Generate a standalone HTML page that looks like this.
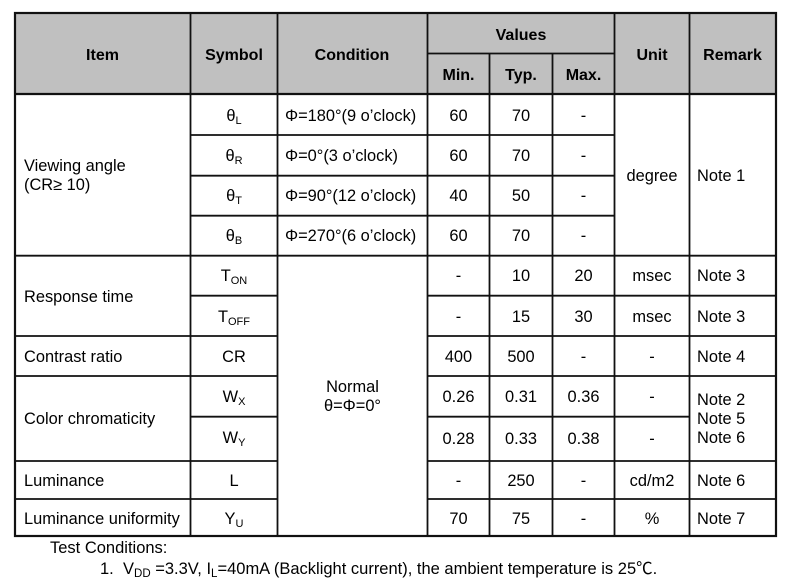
<!DOCTYPE html>
<html>
<head>
<meta charset="utf-8">
<style>
  html, body { margin:0; padding:0; background:#fff; }
  body { width:800px; height:583px; overflow:hidden; }
  svg { display:block; }
  text { font-family: "Liberation Sans", "Noto Sans CJK SC", sans-serif; font-size:16.4px; fill:#000; }
  .b { font-weight:bold; font-size:16px; }
  .c { text-anchor:middle; }
  .s { font-size:11px; }
  .ft { font-size:16.5px; }
</style>
</head>
<body>
<svg width="800" height="583" viewBox="0 0 800 583" xmlns="http://www.w3.org/2000/svg">
  <!-- header fill -->
  <rect x="15" y="13" width="761" height="81" fill="#c0c0c0"/>

  <g stroke="#111" stroke-width="1.8" fill="none">
    <!-- verticals -->
    <line x1="190.5" y1="13" x2="190.5" y2="536"/>
    <line x1="277.5" y1="13" x2="277.5" y2="536"/>
    <line x1="427.5" y1="13" x2="427.5" y2="536"/>
    <line x1="489.5" y1="53.5" x2="489.5" y2="536"/>
    <line x1="552.5" y1="53.5" x2="552.5" y2="536"/>
    <line x1="614.5" y1="13" x2="614.5" y2="536"/>
    <line x1="689.5" y1="13" x2="689.5" y2="536"/>
    <!-- horizontals -->
    <line x1="427.5" y1="53.5" x2="614.5" y2="53.5"/>
    <line x1="190.5" y1="135" x2="614.5" y2="135"/>
    <line x1="190.5" y1="175.7" x2="614.5" y2="175.7"/>
    <line x1="190.5" y1="215.7" x2="614.5" y2="215.7"/>
    <line x1="15" y1="255.7" x2="776" y2="255.7"/>
    <line x1="190.5" y1="295.7" x2="277.5" y2="295.7"/>
    <line x1="427.5" y1="295.7" x2="776" y2="295.7"/>
    <line x1="15" y1="336" x2="277.5" y2="336"/>
    <line x1="427.5" y1="336" x2="776" y2="336"/>
    <line x1="15" y1="376" x2="277.5" y2="376"/>
    <line x1="427.5" y1="376" x2="776" y2="376"/>
    <line x1="190.5" y1="416.7" x2="277.5" y2="416.7"/>
    <line x1="427.5" y1="416.7" x2="689.5" y2="416.7"/>
    <line x1="15" y1="461" x2="277.5" y2="461"/>
    <line x1="427.5" y1="461" x2="776" y2="461"/>
    <line x1="15" y1="499" x2="277.5" y2="499"/>
    <line x1="427.5" y1="499" x2="776" y2="499"/>
  </g>
  <g stroke="#111" stroke-width="2.2" fill="none">
    <line x1="15" y1="94" x2="776" y2="94"/>
    <rect x="15" y="13" width="761" height="523"/>
  </g>

  <!-- header text -->
  <text class="b c" x="102.5" y="60">Item</text>
  <text class="b c" x="234" y="60">Symbol</text>
  <text class="b c" x="352" y="60">Condition</text>
  <text class="b c" x="521" y="40">Values</text>
  <text class="b c" x="458.5" y="80">Min.</text>
  <text class="b c" x="521" y="80">Typ.</text>
  <text class="b c" x="583.5" y="80">Max.</text>
  <text class="b c" x="652" y="60">Unit</text>
  <text class="b c" x="732.5" y="60">Remark</text>

  <!-- Item column -->
  <text x="24" y="171">Viewing angle</text>
  <text x="24" y="190">(CR≥ 10)</text>
  <text x="24" y="302">Response time</text>
  <text x="24" y="362">Contrast ratio</text>
  <text x="24" y="424">Color chromaticity</text>
  <text x="24" y="486">Luminance</text>
  <text x="24" y="524">Luminance uniformity</text>

  <!-- Symbol column -->
  <text class="c" x="234" y="121">θ<tspan class="s" dy="3">L</tspan></text>
  <text class="c" x="234" y="161">θ<tspan class="s" dy="3">R</tspan></text>
  <text class="c" x="234" y="201">θ<tspan class="s" dy="3">T</tspan></text>
  <text class="c" x="234" y="241">θ<tspan class="s" dy="3">B</tspan></text>
  <text class="c" x="234" y="281">T<tspan class="s" dy="3">ON</tspan></text>
  <text class="c" x="234" y="322">T<tspan class="s" dy="3">OFF</tspan></text>
  <text class="c" x="234" y="362">CR</text>
  <text class="c" x="234" y="402">W<tspan class="s" dy="3">X</tspan></text>
  <text class="c" x="234" y="443">W<tspan class="s" dy="3">Y</tspan></text>
  <text class="c" x="234" y="486">L</text>
  <text class="c" x="234" y="524">Y<tspan class="s" dy="3">U</tspan></text>

  <!-- Condition column -->
  <text x="285" y="121">Φ=180°(9 o’clock)</text>
  <text x="285" y="161">Φ=0°(3 o’clock)</text>
  <text x="285" y="201">Φ=90°(12 o’clock)</text>
  <text x="285" y="241">Φ=270°(6 o’clock)</text>
  <text class="c" x="352.5" y="392">Normal</text>
  <text class="c" x="352.5" y="411">θ=Φ=0°</text>

  <!-- Min -->
  <text class="c" x="458.5" y="121">60</text>
  <text class="c" x="458.5" y="161">60</text>
  <text class="c" x="458.5" y="201">40</text>
  <text class="c" x="458.5" y="241">60</text>
  <text class="c" x="458.5" y="281">-</text>
  <text class="c" x="458.5" y="322">-</text>
  <text class="c" x="458.5" y="362">400</text>
  <text class="c" x="458.5" y="402">0.26</text>
  <text class="c" x="458.5" y="444">0.28</text>
  <text class="c" x="458.5" y="486">-</text>
  <text class="c" x="458.5" y="524">70</text>

  <!-- Typ -->
  <text class="c" x="521" y="121">70</text>
  <text class="c" x="521" y="161">70</text>
  <text class="c" x="521" y="201">50</text>
  <text class="c" x="521" y="241">70</text>
  <text class="c" x="521" y="281">10</text>
  <text class="c" x="521" y="322">15</text>
  <text class="c" x="521" y="362">500</text>
  <text class="c" x="521" y="402">0.31</text>
  <text class="c" x="521" y="444">0.33</text>
  <text class="c" x="521" y="486">250</text>
  <text class="c" x="521" y="524">75</text>

  <!-- Max -->
  <text class="c" x="583.5" y="121">-</text>
  <text class="c" x="583.5" y="161">-</text>
  <text class="c" x="583.5" y="201">-</text>
  <text class="c" x="583.5" y="241">-</text>
  <text class="c" x="583.5" y="281">20</text>
  <text class="c" x="583.5" y="322">30</text>
  <text class="c" x="583.5" y="362">-</text>
  <text class="c" x="583.5" y="402">0.36</text>
  <text class="c" x="583.5" y="444">0.38</text>
  <text class="c" x="583.5" y="486">-</text>
  <text class="c" x="583.5" y="524">-</text>

  <!-- Unit -->
  <text class="c" x="652" y="181">degree</text>
  <text class="c" x="652" y="281">msec</text>
  <text class="c" x="652" y="322">msec</text>
  <text class="c" x="652" y="362">-</text>
  <text class="c" x="652" y="402">-</text>
  <text class="c" x="652" y="444">-</text>
  <text class="c" x="652" y="486">cd/m2</text>
  <text class="c" x="652" y="524">%</text>

  <!-- Remark -->
  <text x="697" y="181">Note 1</text>
  <text x="697" y="281">Note 3</text>
  <text x="697" y="322">Note 3</text>
  <text x="697" y="362">Note 4</text>
  <text x="697" y="405">Note 2</text>
  <text x="697" y="424">Note 5</text>
  <text x="697" y="443">Note 6</text>
  <text x="697" y="486">Note 6</text>
  <text x="697" y="524">Note 7</text>

  <!-- footnotes -->
  <text class="ft" x="50" y="553">Test Conditions:</text>
  <text class="ft" x="100" y="574">1.</text>
  <text class="ft" x="123" y="574">V<tspan font-size="11.5" dy="3">DD</tspan><tspan dy="-3"> =3.3V, I</tspan><tspan font-size="11.5" dy="3">L</tspan><tspan dy="-3">=40mA (Backlight current), the ambient temperature is 25℃.</tspan></text>
  <text class="ft" x="100" y="596">2.</text>
  <text class="ft" x="123" y="596">The test systems refer to Note 2.</text>
</svg>
</body>
</html>
